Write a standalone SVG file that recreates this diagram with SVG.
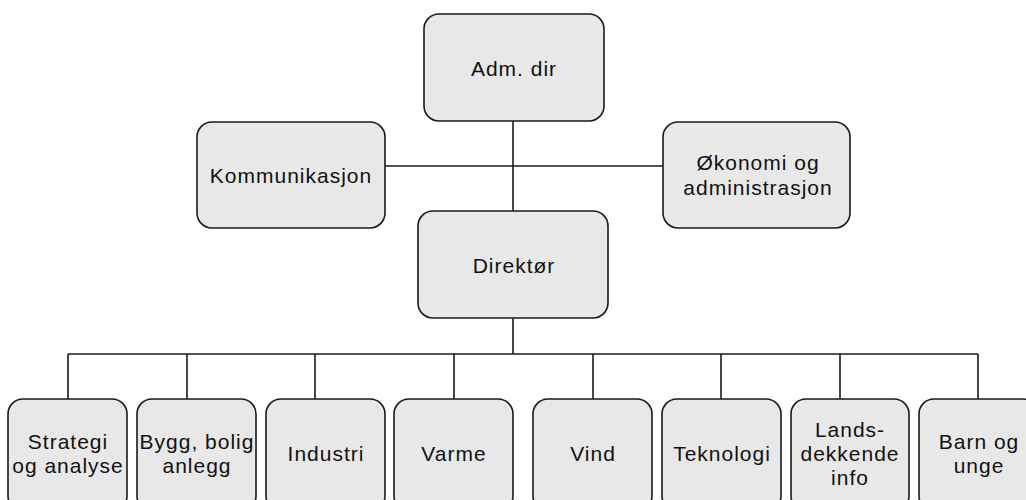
<svg xmlns="http://www.w3.org/2000/svg" width="1026" height="500" viewBox="0 0 1026 500">
<style>
.box{fill:#e8e8e8;stroke:#1a1a1a;stroke-width:1.6}
.lbl{font-family:"Liberation Sans",Arial,sans-serif;font-size:21px;letter-spacing:1px;fill:#111;text-anchor:middle}
.conn line{stroke:#1a1a1a;stroke-width:1.6}
</style>
<rect width="1026" height="500" fill="#fff"/>
<g class="conn">
<line x1="513" y1="121" x2="513" y2="211"/>
<line x1="385" y1="166" x2="663" y2="166"/>
<line x1="513" y1="318" x2="513" y2="354"/>
<line x1="68" y1="354" x2="978" y2="354"/>
<line x1="68" y1="354" x2="68" y2="399"/>
<line x1="187" y1="354" x2="187" y2="399"/>
<line x1="315" y1="354" x2="315" y2="399"/>
<line x1="454" y1="354" x2="454" y2="399"/>
<line x1="593" y1="354" x2="593" y2="399"/>
<line x1="721" y1="354" x2="721" y2="399"/>
<line x1="840" y1="354" x2="840" y2="399"/>
<line x1="978" y1="354" x2="978" y2="399"/>
</g>
<g id="adm">
<rect class="box" x="424" y="14" width="180" height="107" rx="15"/>
<text class="lbl" x="514" y="76">Adm. dir</text>
</g>
<g id="kommunikasjon">
<rect class="box" x="197" y="122" width="188" height="106" rx="15"/>
<text class="lbl" x="291" y="183">Kommunikasjon</text>
</g>
<g id="okonomi">
<rect class="box" x="663" y="122" width="187" height="106" rx="15"/>
<text class="lbl" x="758" y="170">Økonomi og</text>
<text class="lbl" x="758" y="195">administrasjon</text>
</g>
<g id="direktor">
<rect class="box" x="418" y="211" width="190" height="107" rx="15"/>
<text class="lbl" x="514" y="273">Direktør</text>
</g>
<g id="strategi">
<rect class="box" x="8" y="399" width="119" height="112" rx="15"/>
<text class="lbl" x="68" y="449">Strategi</text>
<text class="lbl" x="68" y="473">og analyse</text>
</g>
<g id="bygg">
<rect class="box" x="137" y="399" width="119" height="112" rx="15"/>
<text class="lbl" x="197" y="449">Bygg, bolig</text>
<text class="lbl" x="197" y="473">anlegg</text>
</g>
<g id="industri">
<rect class="box" x="266" y="399" width="119" height="112" rx="15"/>
<text class="lbl" x="326" y="461">Industri</text>
</g>
<g id="varme">
<rect class="box" x="394" y="399" width="119" height="112" rx="15"/>
<text class="lbl" x="454" y="461">Varme</text>
</g>
<g id="vind">
<rect class="box" x="533" y="399" width="119" height="112" rx="15"/>
<text class="lbl" x="593" y="461">Vind</text>
</g>
<g id="teknologi">
<rect class="box" x="662" y="399" width="119" height="112" rx="15"/>
<text class="lbl" x="722" y="461">Teknologi</text>
</g>
<g id="landsdekkende">
<rect class="box" x="791" y="399" width="118" height="112" rx="15"/>
<text class="lbl" x="850" y="437">Lands-</text>
<text class="lbl" x="850" y="461">dekkende</text>
<text class="lbl" x="850" y="485">info</text>
</g>
<g id="barn">
<rect class="box" x="919" y="399" width="119" height="112" rx="15"/>
<text class="lbl" x="979" y="449">Barn og</text>
<text class="lbl" x="979" y="473">unge</text>
</g>
</svg>
